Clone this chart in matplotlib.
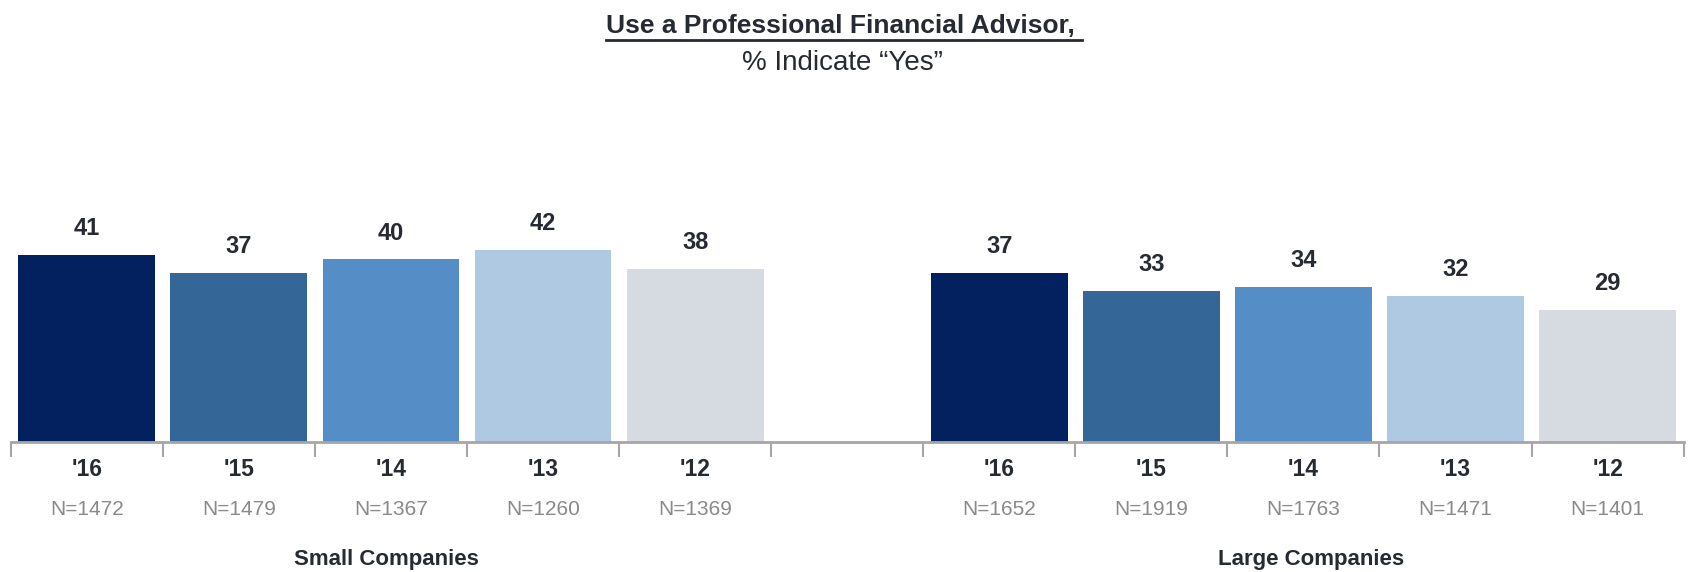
#!/usr/bin/env python3
# Bar chart: share of respondents using a professional financial advisor
import matplotlib
matplotlib.use("Agg")
import matplotlib.pyplot as plt
from matplotlib.transforms import blended_transform_factory

plt.rcParams['font.family'] = ['Liberation Sans', 'DejaVu Sans']

years = ["'16", "'15", "'14", "'13", "'12"]
small_values = [41, 37, 40, 42, 38]
large_values = [37, 33, 34, 32, 29]
small_n = ["N=1472", "N=1479", "N=1367", "N=1260", "N=1369"]
large_n = ["N=1652", "N=1919", "N=1763", "N=1471", "N=1401"]
groups = ["Small Companies", "Large Companies"]
colors = ["#03205f", "#346798", "#558ec6", "#afc9e3", "#d6dbe2"]

DARK = "#262a33"
GRAY = "#8a8a8a"


def main():
    fig = plt.figure(figsize=(16.88, 5.72), dpi=100)
    ax = fig.add_axes([0.0064, 0.2273, 0.991, 0.399])

    small_x = list(range(5))
    large_x = [x + 6 for x in range(5)]
    tr = blended_transform_factory(ax.transData, fig.transFigure)
    for xs, vals, ns in ((small_x, small_values, small_n), (large_x, large_values, large_n)):
        ax.bar(xs, vals, width=0.9, color=colors)
        for x, v in zip(xs, vals):
            ax.annotate(str(v), (x, v), xytext=(0, 19), textcoords='offset points',
                        ha='center', va='center', fontsize=17, fontweight='bold', color=DARK)
        # year labels and sample sizes under the axis
        for x, yr, n in zip(xs, years, ns):
            ax.text(x, 0.180, yr, transform=tr, ha='center', va='center',
                    fontsize=16.5, fontweight='bold', color=DARK)
            ax.text(x, 0.110, n, transform=tr, ha='center', va='center',
                    fontsize=15, color=GRAY)

    ax.text(1.97, 0.021, groups[0], transform=tr, ha='center', va='center',
            fontsize=16, fontweight='bold', color=DARK)
    ax.text(8.05, 0.021, groups[1], transform=tr, ha='center', va='center',
            fontsize=16, fontweight='bold', color=DARK)

    ax.set_xlim(-0.5, 10.5)
    ax.set_ylim(0, 50)
    ax.set_xticks([i - 0.5 for i in range(12)])
    ax.set_xticklabels([])
    ax.tick_params(axis='x', length=11, width=1.5, color='#a6a6a6', direction='out')
    ax.set_yticks([])
    for side in ('top', 'right', 'left'):
        ax.spines[side].set_visible(False)
    ax.spines['bottom'].set_color('#a6a6a6')
    ax.spines['bottom'].set_linewidth(2)

    title = fig.text(0.5, 0.954, "Use a Professional Financial Advisor, ", ha='center', va='center',
                     fontsize=19, fontweight='bold', color=DARK)
    fig.text(0.499, 0.889, "% Indicate \u201cYes\u201d", ha='center', va='center',
             fontsize=20, color=DARK)

    # underline the title
    fig.canvas.draw()
    bb = title.get_window_extent().transformed(fig.transFigure.inverted())
    fig.add_artist(plt.Line2D([bb.x0, bb.x1], [1 - 40 / 572] * 2, transform=fig.transFigure,
                              color=DARK, linewidth=2))

    fig.savefig("out.png", dpi=100)


if __name__ == '__main__':
    main()
